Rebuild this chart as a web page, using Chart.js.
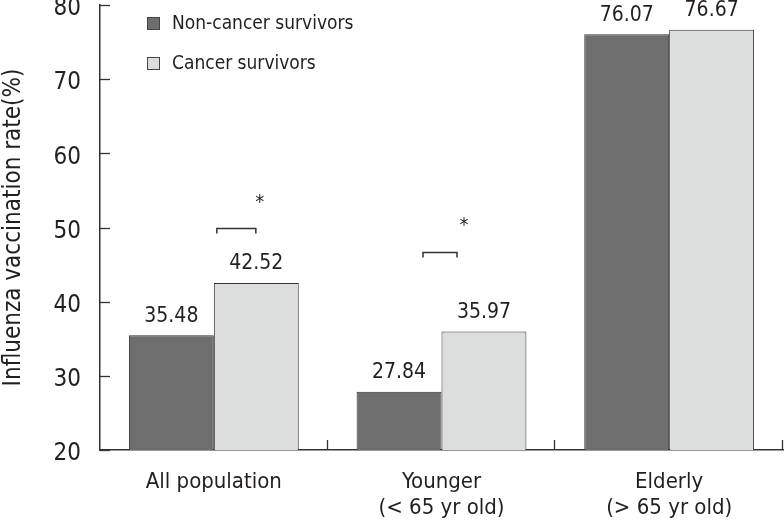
<!DOCTYPE html>
<html>
<head>
<meta charset="utf-8">
<script src="https://cdn.jsdelivr.net/npm/chart.js@4.4.0/dist/chart.umd.min.js"></script>
<style>
  html, body { margin: 0; padding: 0; background: #ffffff; }
  #wrap { width: 784px; height: 523px; }
</style>
</head>
<body>
<div id="wrap"><canvas id="c" width="784" height="523"></canvas></div>
<script>
// ---- data ----
const categories = [["All population"], ["Younger", "(< 65 yr old)"], ["Elderly", "(> 65 yr old)"]];
const seriesNames = ["Non-cancer survivors", "Cancer survivors"];
const nonCancer = [35.48, 27.84, 76.07];
const cancer = [42.52, 35.97, 76.67];
const yTicks = [20, 30, 40, 50, 60, 70, 80];
// significance markers: category index and bracket level (value axis)
const sigCategory = [0, 1];
const sigLevel = [50.0, 46.7];
const sigSymbol = ["*", "*"];

// ---- style ----
const FONT = "'Liberation Sans Narrow', 'DejaVu Sans Condensed', 'Arial Narrow', sans-serif";
const TXT = '#231f20';
const AXIS = '#333333';
const colors = ['#6e6e6e', '#dcdddd'];
const barBorder = '#333333';
// bracket geometry relative to category centre (px), per marker
const sigStyle = [
  { from: 3, to: 42, drop: 5, starDx: 4, starDy: -30 },
  { from: -18.5, to: 15.5, drop: 5, starDx: 7, starDy: -31 }
];

const overlay = {
  id: 'overlay',
  afterDatasetsDraw(chart) {
    const ctx = chart.ctx;
    const xs = chart.scales.x, ys = chart.scales.y;
    const area = chart.chartArea;
    ctx.save();
    // inward y ticks
    ctx.strokeStyle = AXIS; ctx.lineWidth = 1.3;
    ys.ticks.forEach(t => {
      const py = Math.round(ys.getPixelForValue(t.value)) + 0.5;
      ctx.beginPath(); ctx.moveTo(area.left, py); ctx.lineTo(area.left + 10, py); ctx.stroke();
    });
    // inward x ticks at category boundaries
    const n = categories.length;
    const w = (xs.right - xs.left) / n;
    for (let k = 1; k <= n; k++) {
      const px = Math.round(xs.left + k * w) - 0.5;
      ctx.beginPath(); ctx.moveTo(px, area.bottom); ctx.lineTo(px, area.bottom - 10); ctx.stroke();
    }
    // value labels
    ctx.fillStyle = TXT;
    ctx.font = "21px " + FONT;
    ctx.textAlign = 'center'; ctx.textBaseline = 'middle';
    chart.data.datasets.forEach((ds, di) => {
      const meta = chart.getDatasetMeta(di);
      meta.data.forEach((bar, i) => {
        ctx.fillText(ds.data[i].toFixed(2), bar.x, bar.y - 19);
      });
    });
    // significance brackets
    ctx.strokeStyle = '#333'; ctx.lineWidth = 1.5;
    sigCategory.forEach((ci, k) => {
      const cx = xs.getPixelForValue(ci);
      const py = Math.round(ys.getPixelForValue(sigLevel[k])) + 0.5;
      const s = sigStyle[k];
      ctx.beginPath();
      ctx.moveTo(cx + s.from, py + s.drop);
      ctx.lineTo(cx + s.from, py);
      ctx.lineTo(cx + s.to, py);
      ctx.lineTo(cx + s.to, py + s.drop);
      ctx.stroke();
      ctx.font = "20px " + FONT;
      ctx.fillText(sigSymbol[k], cx + s.to + s.starDx, py + s.starDy + 4);
    });
    // legend
    ctx.textAlign = 'left';
    ctx.font = "19px " + FONT;
    seriesNames.forEach((name, i) => {
      const ly = area.top + 18 + i * 40;
      const lx = area.left + 47;
      ctx.fillStyle = colors[i];
      ctx.fillRect(lx, ly - 6, 13, 13);
      ctx.strokeStyle = '#444'; ctx.lineWidth = 1;
      ctx.strokeRect(lx + 0.5, ly - 5.5, 12, 12);
      ctx.fillStyle = TXT;
      ctx.fillText(name, lx + 25, ly + 1);
    });
    ctx.restore();
  }
};

new Chart(document.getElementById('c'), {
  type: 'bar',
  data: {
    labels: categories,
    datasets: [
      { label: seriesNames[0], data: nonCancer, backgroundColor: colors[0], borderColor: barBorder, borderWidth: 1 },
      { label: seriesNames[1], data: cancer, backgroundColor: colors[1], borderColor: barBorder, borderWidth: 1 }
    ]
  },
  options: {
    responsive: false,
    animation: false,
    devicePixelRatio: 1,
    layout: { padding: { top: 5, right: 1, left: 0, bottom: 0 } },
    plugins: { legend: { display: false }, tooltip: { enabled: false } },
    datasets: { bar: { categoryPercentage: 0.746, barPercentage: 1.0 } },
    scales: {
      x: {
        grid: { display: false },
        border: { display: true, color: AXIS, width: 1.5 },
        ticks: { color: TXT, font: { family: FONT, size: 22, lineHeight: 1.2 }, padding: 11, maxRotation: 0 },
        afterFit(s) { s.height = 73; }
      },
      y: {
        min: 20, max: 80,
        afterBuildTicks(s) { s.ticks = yTicks.map(v => ({ value: v })); },
        grid: { display: false, drawTicks: false },
        border: { display: true, color: AXIS, width: 1.5 },
        ticks: { color: TXT, font: { family: FONT, size: 24 }, padding: 19, labelOffset: 4 },
        title: { display: true, text: 'Influenza vaccination rate(%)', color: TXT,
                 font: { family: FONT, size: 24, lineHeight: 1 }, padding: { top: 2, bottom: 0 } },
        afterFit(s) { s.width = 100; s.paddingTop = 0; s.paddingBottom = 0; }
      }
    }
  },
  plugins: [overlay]
});
</script>
</body>
</html>
